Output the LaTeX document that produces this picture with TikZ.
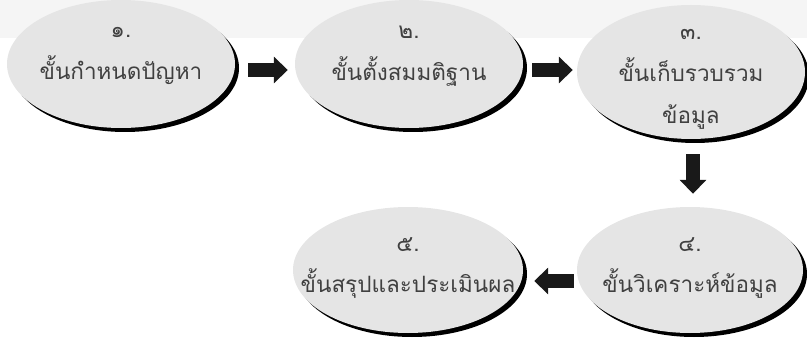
\documentclass[tikz,border=0pt]{standalone}
\usepackage{fontspec}
\usepackage{tikz}
\usetikzlibrary{shapes.geometric,shadows,arrows.meta}
\newfontfamily\thaifont[Script=Thai]{Loma}

\tikzset{
	stepoval/.style={ellipse,fill=black!10,inner sep=0pt,
		drop shadow={shadow xshift=4pt,shadow yshift=-4pt,fill=black,opacity=1}},
	steptext/.style={align=center,text=black!75,
		font=\thaifont\fontsize{22.5}{42}\selectfont},
	blockarrow/.style={line width=14pt,black!90,-{Triangle[width=26pt,length=14pt]}}
}

\begin{document}
\begin{tikzpicture}[x=1pt,y=-1pt]
			\useasboundingbox (0,0) rectangle (807,345);
			\fill[black!4] (0,0) rectangle (807,38);
			\node[stepoval,minimum width=228pt,minimum height=128pt] (e1) at (121,64) {};
			\node[stepoval,minimum width=228pt,minimum height=128pt] (e2) at (409,64) {};
			\node[stepoval,minimum width=228pt,minimum height=134pt] (e3) at (691,72) {};
			\node[stepoval,minimum width=226pt,minimum height=126pt] (e4) at (690,270) {};
			\node[stepoval,minimum width=230pt,minimum height=126pt] (e5) at (408,270) {};
			\node[steptext] (t1) at ([yshift=8pt]e1.center) {๑.\\ขั้นกำหนดปัญหา};
			\node[steptext] (t2) at ([yshift=8pt]e2.center) {๒.\\ขั้นตั้งสมมติฐาน};
			\node[steptext] (t3) at ([yshift=-7pt]e3.center) {๓.\\ขั้นเก็บรวบรวม\\ข้อมูล};
			\node[steptext] (t4) at ([yshift=2pt]e4.center) {๔.\\ขั้นวิเคราะห์ข้อมูล};
			\node[steptext] (t5) at ([yshift=2pt]e5.center) {๕.\\ขั้นสรุปและประเมินผล};
			\draw[blockarrow,shorten <=13pt,shorten >=7pt] ([yshift=-6pt]e1.east) -- ([yshift=-6pt]e1.east -| e2.west);
			\draw[blockarrow,shorten <=9pt,shorten >=4pt] ([yshift=-6pt]e2.east) -- ([yshift=-6pt]e2.east -| e3.west);
			\draw[blockarrow,shorten <=15pt,shorten >=13pt] ([xshift=2pt]e3.south) -- ([xshift=2pt]e3.south |- e4.north);
			\draw[blockarrow,shorten <=3pt,shorten >=11pt] ([yshift=-11pt]e4.west) -- ([yshift=-11pt]e4.west -| e5.east);
		\end{tikzpicture}
\end{document}
